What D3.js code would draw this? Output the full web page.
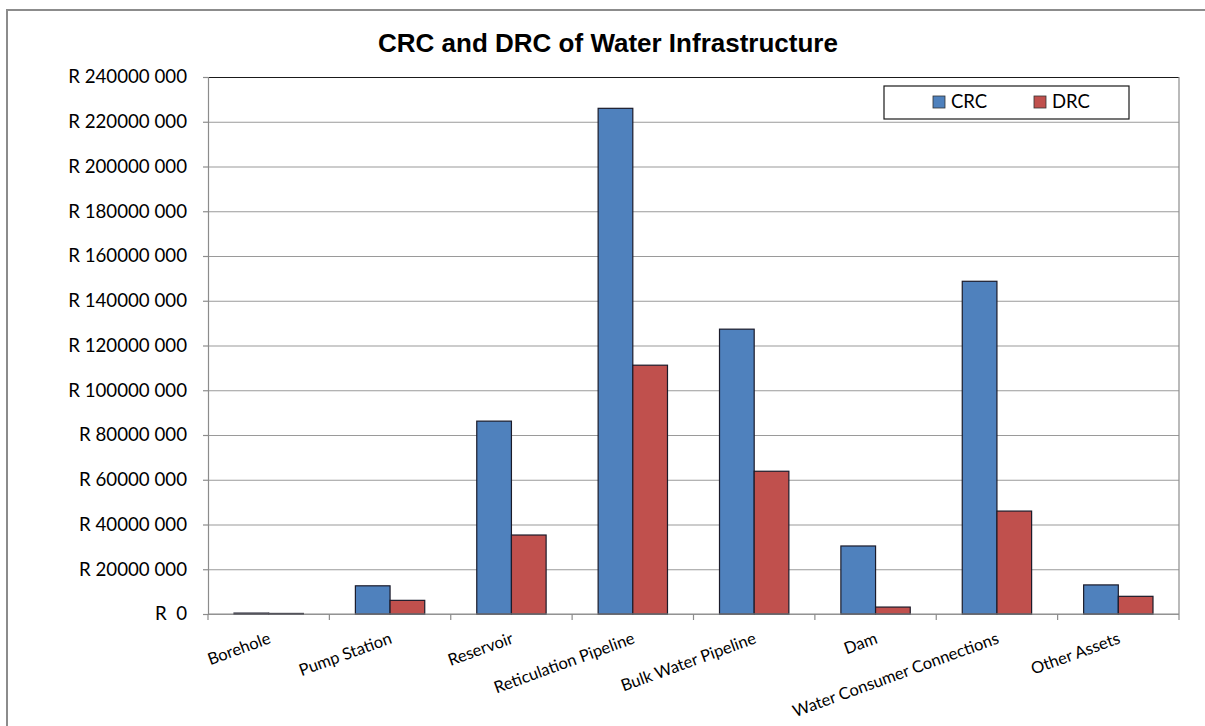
<!DOCTYPE html>
<html>
<head>
<meta charset="utf-8">
<script src="https://cdn.jsdelivr.net/npm/d3@7"></script>
<style>
  html, body { margin: 0; padding: 0; background: #fff; }
  svg { display: block; }
  text { white-space: pre; }
</style>
</head>
<body>
<svg id="chart" width="1205" height="726"></svg>
<script>
// Water infrastructure: current replacement cost (CRC) and depreciated replacement cost (DRC), in Rand
const categories = ["Borehole", "Pump Station", "Reservoir", "Reticulation Pipeline",
  "Bulk Water Pipeline", "Dam", "Water Consumer Connections", "Other Assets"];
const seriesNames = ["CRC", "DRC"];
const crcValues = [400000, 12600000, 86200000, 226000000, 127300000, 30400000, 148700000, 13000000];
const drcValues = [250000, 6100000, 35300000, 111200000, 63800000, 3100000, 46000000, 7900000];
const yTicks = [0, 20000000, 40000000, 60000000, 80000000, 100000000, 120000000,
  140000000, 160000000, 180000000, 200000000, 220000000, 240000000];
const seriesColors = ["#4F81BD", "#C0504D"];

const svg = d3.select("#chart");
const W = 1205, H = 726;
const plot = { left: 208, right: 1179, top: 77, bottom: 614 };
const labelFont = "Lato, 'Open Sans', sans-serif";

// chart frame
svg.append("rect")
  .attr("x", 7).attr("y", 10)
  .attr("width", W + 20).attr("height", H + 20)
  .attr("fill", "#fff").attr("stroke", "#8c8c8c").attr("stroke-width", 2);

// title
svg.append("text")
  .attr("x", 608)
  .attr("y", 52)
  .attr("text-anchor", "middle")
  .attr("font-family", "'Liberation Sans', Arial, sans-serif")
  .attr("font-weight", "bold")
  .attr("font-size", 26)
  .attr("fill", "#000")
  .text("CRC and DRC of Water Infrastructure");

const x = d3.scaleBand().domain(categories).range([plot.left, plot.right]).padding(0);
const xInner = d3.scaleBand().domain(seriesNames).range([0, x.bandwidth()])
  .paddingInner(0).paddingOuter(0.75);
const y = d3.scaleLinear().domain([0, 240000000]).range([plot.bottom, plot.top]);

const fmt = v => v === 0 ? "R  0"
  : `R ${Math.floor(v / 1000)} ${String(v % 1000).padStart(3, "0")}`;

// horizontal gridlines
const grid = svg.append("g").attr("transform", `translate(${plot.left},0)`)
  .call(d3.axisLeft(y).tickValues(yTicks).tickSize(-(plot.right - plot.left)).tickFormat(""));
grid.select(".domain").remove();
grid.selectAll(".tick line")
  .attr("stroke", "#9a9a9a").attr("stroke-width", 1.2);
grid.selectAll(".tick").filter(d => d === 240000000).select("line")
  .attr("stroke", "#1a1a1a");

// right edge of the plot area
svg.append("line")
  .attr("x1", plot.right).attr("x2", plot.right)
  .attr("y1", plot.top).attr("y2", plot.bottom)
  .attr("stroke", "#8c8c8c").attr("stroke-width", 1.2);

// y axis
const yAxis = svg.append("g").attr("transform", `translate(${plot.left},0)`)
  .call(d3.axisLeft(y).tickValues(yTicks).tickSize(5).tickPadding(16).tickFormat(fmt));
yAxis.select(".domain").attr("stroke", "#8c8c8c").attr("stroke-width", 1.2);
yAxis.selectAll(".tick line").attr("stroke", "#8c8c8c").attr("stroke-width", 1.2);
yAxis.selectAll(".tick text")
  .attr("font-family", labelFont).attr("font-size", 18.7).attr("fill", "#000");

// bars
const rows = categories.map((c, i) => ({ cat: c, vals: [crcValues[i], drcValues[i]] }));
const groups = svg.append("g").selectAll("g").data(rows).join("g")
  .attr("transform", d => `translate(${x(d.cat)},0)`);
groups.selectAll("rect")
  .data(d => d.vals.map((v, j) => ({ name: seriesNames[j], value: v, color: seriesColors[j] })))
  .join("rect")
  .attr("x", d => xInner(d.name))
  .attr("width", xInner.bandwidth())
  .attr("y", d => y(d.value))
  .attr("height", d => y(0) - y(d.value))
  .attr("fill", d => d.color)
  .attr("stroke", "#1b1b2a").attr("stroke-width", 1.2);

// x axis line with ticks between categories
const xAxis = svg.append("g");
xAxis.append("line")
  .attr("x1", plot.left).attr("x2", plot.right)
  .attr("y1", plot.bottom).attr("y2", plot.bottom)
  .attr("stroke", "#8c8c8c").attr("stroke-width", 1.2);
const boundaries = categories.map(c => x(c)).concat([x(categories[categories.length - 1]) + x.bandwidth()]);
xAxis.selectAll("line.tick").data(boundaries).join("line")
  .attr("class", "tick")
  .attr("x1", d => d).attr("x2", d => d)
  .attr("y1", plot.bottom).attr("y2", plot.bottom + 6)
  .attr("stroke", "#8c8c8c").attr("stroke-width", 1.2);

// rotated category labels
xAxis.selectAll("text").data(categories).join("text")
  .attr("transform", d => `translate(${x(d) + x.bandwidth() / 2 - 1},${plot.bottom + 18}) rotate(-20)`)
  .attr("text-anchor", "end")
  .attr("dy", "0.7em")
  .attr("font-family", labelFont).attr("font-size", 16.5).attr("fill", "#000")
  .text(d => d);

// legend
const legend = svg.append("g");
legend.append("rect")
  .attr("x", 884).attr("y", 86).attr("width", 245).attr("height", 33)
  .attr("fill", "#fff").attr("stroke", "#1a1a1a").attr("stroke-width", 1.2);
const legendX = [933, 1034];
const items = legend.selectAll("g").data(seriesNames).join("g")
  .attr("transform", (d, i) => `translate(${legendX[i]},96)`);
items.append("rect")
  .attr("width", 12).attr("height", 12)
  .attr("fill", (d, i) => seriesColors[i]).attr("stroke", "#333").attr("stroke-width", 0.8);
items.append("text")
  .attr("x", 18).attr("y", 6).attr("dy", "0.35em")
  .attr("font-family", labelFont).attr("font-size", 18.5).attr("fill", "#000")
  .text(d => d);
</script>
</body>
</html>
